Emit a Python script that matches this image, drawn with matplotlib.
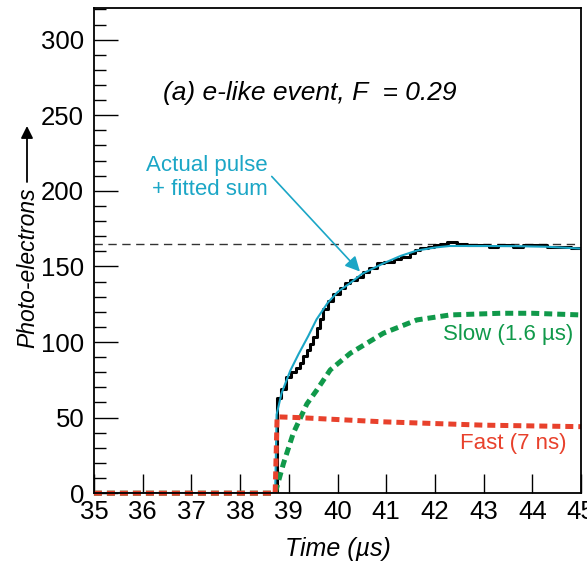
import matplotlib
matplotlib.use("Agg")
import matplotlib.pyplot as plt
from matplotlib.ticker import MultipleLocator

plt.rcParams['font.family'] = ['Liberation Sans', 'DejaVu Sans']

# Measured pulse (black staircase)
pulse_t = [35.0, 38.72, 38.75, 38.85, 38.95, 39.05, 39.15, 39.23, 39.30, 39.37,
           39.44, 39.50, 39.57, 39.64, 39.71, 39.80, 39.91, 40.05, 40.15, 40.26,
           40.40, 40.53, 40.65, 40.80, 40.95, 41.15, 41.30, 41.49, 41.60, 41.69,
           41.85, 41.97, 42.10, 42.24, 42.45, 42.65, 42.90, 43.10, 43.30, 43.60,
           43.80, 44.00, 44.30, 44.60, 44.80, 45.00]
pulse_v = [0, 0, 63, 69, 77, 80, 83, 86, 91, 95,
           99, 103, 109, 115, 122, 127, 132, 136, 139, 141,
           143, 146, 149, 152, 153, 155, 156, 159, 161, 162,
           163, 164, 165, 166, 165, 164, 164, 163, 164, 163,
           164, 164, 163, 163, 162, 162]

# Fitted sum (cyan)
fit_t = [35.0, 38.72, 38.75, 38.85, 39.03, 39.2, 39.4, 39.57, 39.8, 40.0,
         40.26, 40.5, 40.94, 41.3, 41.63, 42.0, 42.3, 43.0, 43.67, 44.3, 45.0]
fit_v = [0, 0, 52, 66, 81, 92, 104, 115, 126, 133,
         139, 145, 152, 157, 160.5, 162.5, 163.5, 163.5, 163.4, 163, 161.8]

# Slow component (green)
slow_t = [35.0, 38.72, 38.89, 39.09, 39.37, 39.57, 39.85, 40.26, 40.94, 41.63,
          42.31, 43.34, 44.0, 45.0]
slow_v = [0, 0, 19.6, 39.5, 59, 68, 81.5, 92.5, 105.8, 114.6,
          117.9, 119, 119, 117.9]

# Fast component (red)
fast_t = [35.0, 38.72, 38.76, 39.2, 40.94, 42.99, 45.0]
fast_v = [0, 0, 50.5, 50, 47.2, 45, 44]

plateau = 165

cyan = '#1ba6c6'
green = '#10994a'
red = '#e8412c'

fig = plt.figure(figsize=(5.87, 5.63), dpi=100)
ax = fig.add_axes([0.160, 0.124, 0.830, 0.862])

ax.axhline(plateau, color='#333333', lw=1.0, dashes=(6, 4))
ax.plot(pulse_t, pulse_v, color='black', lw=2.2, drawstyle='steps-post')
ax.plot(fit_t, fit_v, color=cyan, lw=1.5)
ax.plot(slow_t, slow_v, color=green, lw=3.6, dashes=(1.6, 1.0), clip_on=False)
ax.plot(fast_t, fast_v, color=red, lw=3.6, dashes=(1.6, 1.0), clip_on=False)

ax.set_xlim(35, 45)
ax.set_ylim(0, 321)
ax.xaxis.set_major_locator(MultipleLocator(1))
ax.yaxis.set_major_locator(MultipleLocator(50))
ax.yaxis.set_minor_locator(MultipleLocator(10))
ax.tick_params(axis='x', which='major', direction='in', length=14, width=1.0,
               labelsize=18.5, pad=5, top=False)
ax.tick_params(axis='y', which='major', direction='in', length=17, width=1.0,
               labelsize=18.5, pad=7, right=False)
ax.tick_params(axis='y', which='minor', direction='in', length=8.5, width=1.0,
               right=False)
for sp in ax.spines.values():
    sp.set_linewidth(1.3)

ax.set_xlabel('Time (\u00b5s)', fontsize=18, style='italic', labelpad=9)

# y label, with its long arrow drawn on its own
fig.text(28 / 587, 1 - 268 / 563, 'Photo-electrons', fontsize=16.5,
         style='italic', rotation=90, ha='center', va='center')
ax.annotate('', xy=(27 / 587, 1 - 126 / 563), xycoords='figure fraction',
            xytext=(27 / 587, 1 - 182 / 563), textcoords='figure fraction',
            arrowprops=dict(arrowstyle='-|>', color='black', lw=1.3,
                            mutation_scale=18, shrinkA=0, shrinkB=0))

ax.text(36.42, 265, '(a) e-like event, F  = 0.29', fontsize=19,
        style='italic', ha='left', va='center')
ax.text(38.57, 209, 'Actual pulse\n+ fitted sum', fontsize=16, color=cyan,
        ha='right', va='center', linespacing=1.2)
ax.annotate('', xy=(40.46, 146.6), xytext=(38.65, 209.5),
            arrowprops=dict(arrowstyle='-|>', color=cyan, lw=1.2,
                            mutation_scale=22, shrinkA=0, shrinkB=0))
ax.text(44.84, 105, 'Slow (1.6 \u00b5s)', fontsize=16, color=green,
        ha='right', va='center')
ax.text(44.69, 33, 'Fast (7 ns)', fontsize=16, color=red,
        ha='right', va='center')

fig.savefig('out.png', dpi=100)
